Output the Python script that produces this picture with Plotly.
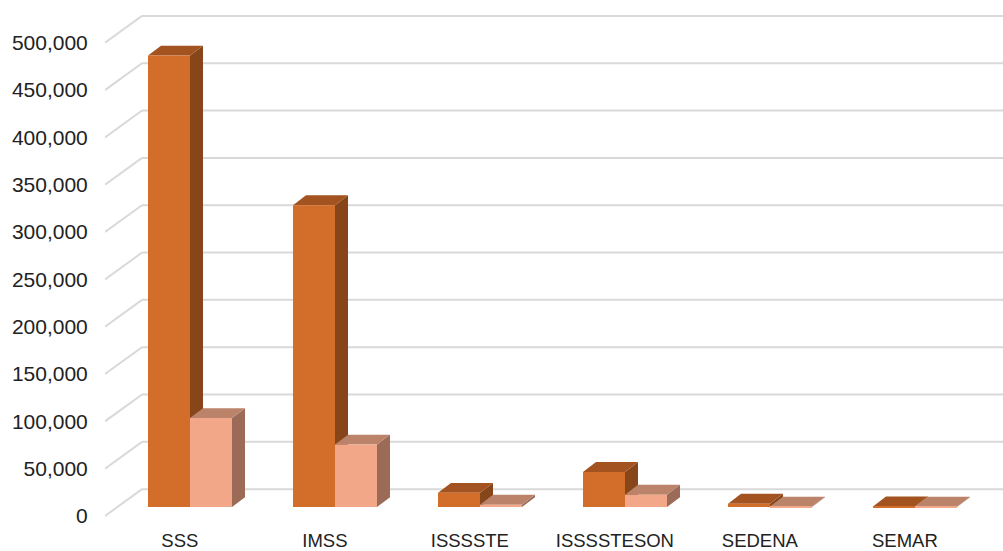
import plotly.graph_objects as go

# ---- data ----
categories = ["SSS", "IMSS", "ISSSSTE", "ISSSSTESON", "SEDENA", "SEMAR"]
series_a = [477000, 319000, 15000, 37000, 3500, 600]   # dark orange
series_b = [94000, 66000, 2500, 13000, 500, 300]       # salmon
y_ticks = [0, 50000, 100000, 150000, 200000, 250000, 300000, 350000, 400000, 450000, 500000]

# ---- style / geometry ----
W, H = 1003, 551
ML, MB = 105, 29
PLOT_H = H - MB
PX_PER_UNIT_Y = 476 / 500000.0       # pixels per data unit (front plane)
PX_PER_CAT = 145.0
Y_MIN = -3 / PX_PER_UNIT_Y
Y_MAX = PLOT_H / PX_PER_UNIT_Y + Y_MIN
X_MIN = (ML - 190) / PX_PER_CAT
X_MAX = (W - 190) / PX_PER_CAT

BAR_W = 42 / PX_PER_CAT
BASE = 9 / PX_PER_UNIT_Y               # bars sit behind the front edge
DX = 13 / PX_PER_CAT                   # bar depth (x)
DY = 10 / PX_PER_UNIT_Y                # bar depth (y)
WALL_DX = 37 / PX_PER_CAT              # floor depth
WALL_DY = 27 / PX_PER_UNIT_Y
GRID = "#d9d9d9"

colors = {
    "a": dict(front="#d36e2a", top="#a2531f", side="#86461a"),
    "b": dict(front="#f1a788", top="#ba836a", side="#9b6b57"),
}

fig = go.Figure()
shapes = []

# back wall gridlines + floor diagonals
for t in y_ticks:
    shapes.append(dict(type="line", xref="x", yref="y", layer="below",
                       x0=X_MIN, y0=t, x1=X_MIN + WALL_DX, y1=t + WALL_DY,
                       line=dict(color=GRID, width=2)))
    shapes.append(dict(type="line", xref="x", yref="y", layer="below",
                       x0=X_MIN + WALL_DX, y0=t + WALL_DY, x1=X_MAX + 1, y1=t + WALL_DY,
                       line=dict(color=GRID, width=2)))


def faces(cx, val, c):
    x0 = cx - BAR_W / 2
    x1 = cx + BAR_W / 2
    y0 = BASE
    y1 = BASE + val
    top = f"M{x0},{y1} L{x0+DX},{y1+DY} L{x1+DX},{y1+DY} L{x1},{y1} Z"
    side = f"M{x1},{y0} L{x1+DX},{y0+DY} L{x1+DX},{y1+DY} L{x1},{y1} Z"
    return [
        dict(type="path", xref="x", yref="y", layer="below", path=side,
             fillcolor=c["side"], line=dict(width=0)),
        dict(type="path", xref="x", yref="y", layer="below", path=top,
             fillcolor=c["top"], line=dict(width=0)),
    ]


xa = [i - BAR_W / 2 for i in range(len(categories))]
xb = [i + BAR_W / 2 for i in range(len(categories))]

for i in range(len(categories)):
    shapes += faces(xa[i], series_a[i], colors["a"])
    shapes += faces(xb[i], series_b[i], colors["b"])

fig.add_trace(go.Bar(x=xa, y=series_a, base=BASE, width=BAR_W,
                     marker=dict(color=colors["a"]["front"], line=dict(width=0)),
                     showlegend=False, hoverinfo="skip"))
fig.add_trace(go.Bar(x=xb, y=series_b, base=BASE, width=BAR_W,
                     marker=dict(color=colors["b"]["front"], line=dict(width=0)),
                     showlegend=False, hoverinfo="skip"))

fig.update_layout(
    width=W, height=H,
    margin=dict(l=ML, r=0, t=0, b=MB),
    paper_bgcolor="white", plot_bgcolor="white",
    barmode="overlay",
    shapes=shapes,
    font=dict(family="Liberation Sans, Arial, sans-serif", color="#222222"),
    xaxis=dict(range=[X_MIN, X_MAX], showgrid=False, zeroline=False, showline=False,
               tickvals=[i - 0.07 for i in range(len(categories))], ticktext=categories,
               ticks="outside", ticklen=5, tickcolor="rgba(0,0,0,0)",
               tickfont=dict(size=18.5, color="#222222")),
    yaxis=dict(range=[Y_MIN, Y_MAX], showgrid=False, zeroline=False, showline=False,
               tickvals=y_ticks, tickformat=",",
               ticks="outside", ticklen=12, tickcolor="rgba(0,0,0,0)",
               tickfont=dict(size=21, color="#222222")),
)

fig.write_html("out.html", config={"displayModeBar": False},
               post_script="document.body.style.margin='0';document.body.style.overflow='hidden';")
